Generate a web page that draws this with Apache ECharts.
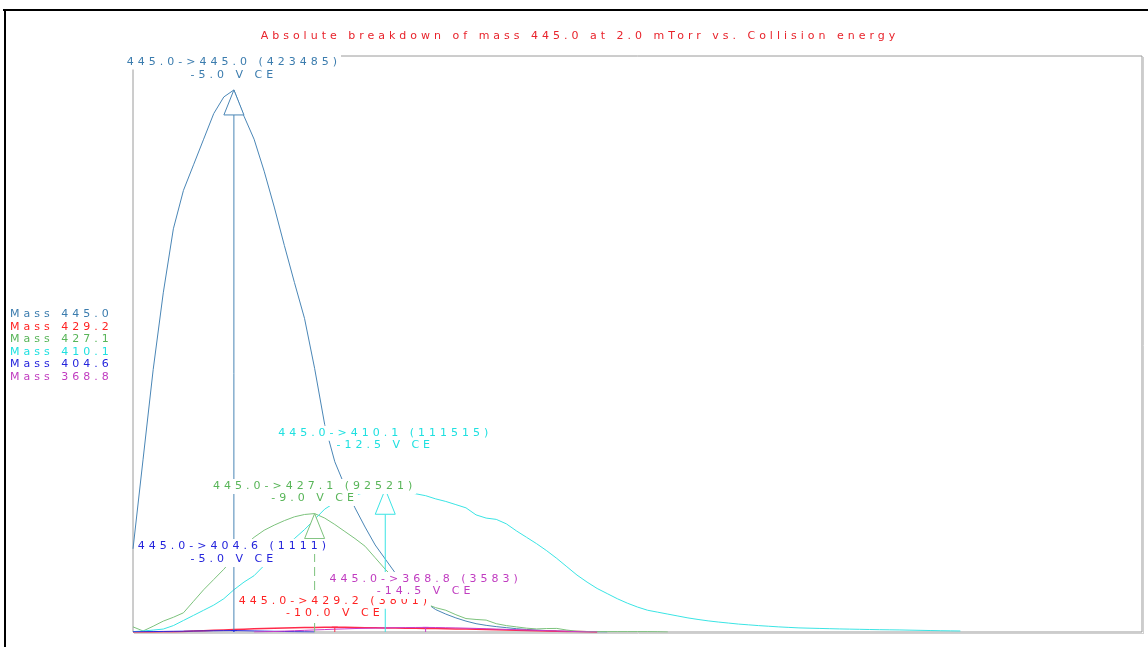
<!DOCTYPE html>
<html>
<head>
<meta charset="utf-8">
<title>Absolute breakdown of mass 445.0</title>
<script src="https://cdn.jsdelivr.net/npm/echarts@6/dist/echarts.min.js"></script>
<style>
  html, body { margin: 0; padding: 0; background: #ffffff; }
  #chart { width: 1148px; height: 647px; }
</style>
</head>
<body>
<div id="chart"></div>
<script>
// ---- data -------------------------------------------------------------
const precursor = '445.0';
const titleText = 'Absolute breakdown of mass 445.0 at 2.0 mTorr vs. Collision energy';

// collision energy grid (magnitude, V)
const ceVolts = [0,0.5,1,1.5,2,2.5,3,3.5,4,4.5,5,5.5,6,6.5,7,7.5,8,8.5,9,9.5,10,10.5,11,11.5,12,12.5,13,13.5,14,14.5,15,15.5,16,16.5,17,17.5,18,18.5,19,19.5,20,20.5,21,21.5,22,22.5,23,23.5,24,24.5,25,25.5,26,26.5,27,27.5,28,28.5,29,29.5,30,30.5,31,31.5,32,32.5,33,33.5,34,34.5,35,35.5,36,36.5,37,37.5,38,38.5,39,39.5,40,40.5,41];

const fragmentMasses = ['445.0', '429.2', '427.1', '410.1', '404.6', '368.8'];

// intensity per energy step, in the order of ceVolts
const mass445 = [65000,135000,205000,265000,315000,345000,365000,385000,405000,418000,423485,403000,385000,360000,332000,302000,273000,245000,206000,162000,133000,114000,97000,82000,68000,57000,46000,38000,30000,23000,17500,14000,11000,8500,6500,5200,4200,3400,2600,2000,1500,1100,800,500,300,200,100,0];
const mass429 = [0,0,50,100,200,400,700,1000,1300,1600,1900,2200,2500,2700,2900,3100,3300,3450,3600,3700,3801,3700,3550,3400,3300,3200,3100,3000,2900,2800,2700,2550,2400,2250,2100,1950,1800,1600,1400,1200,1000,800,600,450,300,150,0];
const mass427 = [4000,800,4500,8500,11500,15000,24000,33000,41000,49000,58000,67000,74000,79500,83500,87000,90000,91800,92521,89000,84000,78500,73000,67000,58000,49000,41000,33000,27000,22000,19000,17000,13500,10500,9800,9300,6500,5000,4000,3000,2400,2700,2800,1500,600,400,300,300,300,300,300,300,200,0];
const mass410 = [300,800,1500,2300,5000,9000,13000,17000,21000,26000,33000,39000,44000,52000,59000,66000,73000,80000,88000,96000,101000,104000,107000,109000,110500,111515,110500,109500,108000,106500,104000,102000,99500,97000,91500,89000,88000,84500,79000,74000,69000,63500,57500,51000,44500,39000,34000,30000,26000,22500,19500,17000,15500,14000,12500,11000,9800,8700,7800,7000,6200,5600,5000,4500,4000,3600,3200,3000,2800,2600,2400,2250,2100,1950,1800,1700,1600,1450,1300,1150,1000,900,800];
const mass404 = [150,250,350,450,550,650,750,850,950,1050,1111,1000,850,700,550,400,250,100,0];
const mass368 = [null,null,null,null,null,null,null,null,null,null,null,null,0,200,400,700,1000,1300,1600,1900,2200,2450,2700,2900,3050,3200,3350,3450,3530,3583,3500,3350,3200,3000,2800,2550,2300,2050,1800,1550,1300,1050,800,550,300,100,0];

// apex of each breakdown curve: energy (V, shown negative) and counts
const apexEnergy = [5.0, 10.0, 9.0, 12.5, 5.0, 14.5];
const apexCounts = [423485, 3801, 92521, 111515, 1111, 3583];

// ---- styling ----------------------------------------------------------
const traces = [mass445, mass429, mass427, mass410, mass404, mass368];
const textColors = ['#3b7cae', '#ff2222', '#58b558', '#1fe0e0', '#2424dc', '#c03cc0'];
const lineColors = ['#4a86b6', '#ff2a4a', '#7cc27c', '#3ae4e4', '#2a2ae0', '#c83cc8'];
const stemDashed = [false, false, true, false, false, false];
// label line offsets above the apex, px (first line, second line)
const labelRise = [[28, 15], [26, 14], [27, 15], [56, 44], [84, 71], [48, 36]];
const FAMILY = '"DejaVu Sans", Verdana, sans-serif';
const FONT = '11px ' + FAMILY;
const TRACKING = '4px';
const HEAD_H = 25, HEAD_W = 10;

// wide letter tracking for every text run on the canvas
(function () {
  const p = CanvasRenderingContext2D.prototype;
  ['fillText', 'strokeText', 'measureText'].forEach(function (fn) {
    const base = p[fn];
    p[fn] = function () {
      this.letterSpacing = TRACKING;
      return base.apply(this, arguments);
    };
  });
})();

const apexData = apexEnergy.map((e, i) => [e, apexCounts[i]]);

const lineSeries = fragmentMasses.map((m, k) => ({
  name: 'Mass ' + m,
  type: 'line',
  data: ceVolts.slice(0, traces[k].length).map((e, i) => [e, traces[k][i]]),
  showSymbol: false,
  symbol: 'none',
  silent: true,
  lineStyle: { width: k === 1 ? 1.5 : 1, color: lineColors[k] },
  itemStyle: { color: lineColors[k] },
  z: 2
}));

// arrows from the baseline up to each apex
const arrowSeries = {
  type: 'custom',
  silent: true,
  z: 3,
  data: apexData,
  encode: { x: 0, y: 1 },
  renderItem: function (params, api) {
    const i = params.dataIndex;
    const tip = api.coord([api.value(0), api.value(1)]);
    const foot = api.coord([api.value(0), 0]);
    const c = lineColors[i];
    const rise = foot[1] - tip[1];
    const kids = [];
    if (rise > HEAD_H + 2) {
      kids.push({
        type: 'line',
        shape: { x1: tip[0], y1: foot[1], x2: tip[0], y2: tip[1] + HEAD_H },
        style: { stroke: c, lineWidth: 1, lineDash: stemDashed[i] ? [9, 5] : null }
      });
      kids.push({
        type: 'polygon',
        shape: { points: [[tip[0], tip[1]], [tip[0] - HEAD_W, tip[1] + HEAD_H], [tip[0] + HEAD_W, tip[1] + HEAD_H]] },
        style: { fill: '#ffffff', stroke: c, lineWidth: 1 }
      });
    } else {
      kids.push({
        type: 'line',
        shape: { x1: tip[0], y1: foot[1], x2: tip[0], y2: tip[1] },
        style: { stroke: c, lineWidth: 1 }
      });
      kids.push({
        type: 'line',
        shape: { x1: tip[0] - 3, y1: tip[1], x2: tip[0] + 3, y2: tip[1] },
        style: { stroke: c, lineWidth: 1 }
      });
    }
    return { type: 'group', children: kids };
  }
};

// two-line annotation above each apex
const labelSeries = {
  type: 'custom',
  silent: true,
  z: 5,
  data: apexData,
  encode: { x: 0, y: 1 },
  renderItem: function (params, api) {
    const i = params.dataIndex;
    const e = api.value(0), v = api.value(1);
    const tip = api.coord([e, v]);
    const lines = [
      precursor + '->' + fragmentMasses[i] + ' (' + v + ')',
      '-' + e.toFixed(1) + ' V CE'
    ];
    return {
      type: 'group',
      children: lines.map((t, j) => ({
        type: 'text',
        x: tip[0],
        y: tip[1] - labelRise[i][j],
        style: {
          text: t,
          font: FONT,
          fill: textColors[i],
          align: 'center',
          verticalAlign: 'middle',
          backgroundColor: '#ffffff',
          padding: [0, 0]
        }
      }))
    };
  }
};

const chart = echarts.init(document.getElementById('chart'), null, { renderer: 'canvas' });

chart.setOption({
  animation: false,
  backgroundColor: '#ffffff',
  title: {
    text: titleText,
    left: 580,
    top: 36,
    textAlign: 'center',
    textVerticalAlign: 'middle',
    padding: 0,
    textStyle: { color: '#e8232b', fontSize: 11, fontWeight: 'normal', fontFamily: FAMILY }
  },
  legend: {
    orient: 'vertical',
    left: 5,
    top: 307,
    padding: 0,
    icon: 'rect',
    itemWidth: 0,
    itemHeight: 11,
    itemTextGap: 0,
    itemGap: -2.5,
    selectedMode: false,
    textStyle: { fontSize: 11, fontFamily: FAMILY },
    data: fragmentMasses.map((m, k) => ({ name: 'Mass ' + m, textStyle: { color: textColors[k] } }))
  },
  grid: {
    left: 133, top: 56, right: 6, bottom: 15,
    show: true, borderColor: '#9a9a9a', borderWidth: 1, backgroundColor: 'transparent'
  },
  xAxis: {
    type: 'value', min: 0, max: 50,
    axisLine: { show: false }, axisTick: { show: false }, axisLabel: { show: false }, splitLine: { show: false }
  },
  yAxis: {
    type: 'value', min: 0, max: 450000,
    axisLine: { show: false }, axisTick: { show: false }, axisLabel: { show: false }, splitLine: { show: false }
  },
  graphic: [
    // page frame
    { type: 'rect', shape: { x: 3, y: 9, width: 1145, height: 2 }, style: { fill: '#000000' }, silent: true },
    { type: 'rect', shape: { x: 4, y: 9, width: 2, height: 638 }, style: { fill: '#000000' }, silent: true },
    // soft shadow along the plot's right and bottom edges
    { type: 'line', shape: { x1: 1143.5, y1: 57, x2: 1143.5, y2: 634 }, style: { stroke: '#d0d0d0', lineWidth: 1 }, silent: true },
    { type: 'line', shape: { x1: 134, y1: 633.5, x2: 1143, y2: 633.5 }, style: { stroke: '#d0d0d0', lineWidth: 1 }, silent: true }
  ],
  series: lineSeries.concat([arrowSeries, labelSeries])
});
</script>
</body>
</html>
